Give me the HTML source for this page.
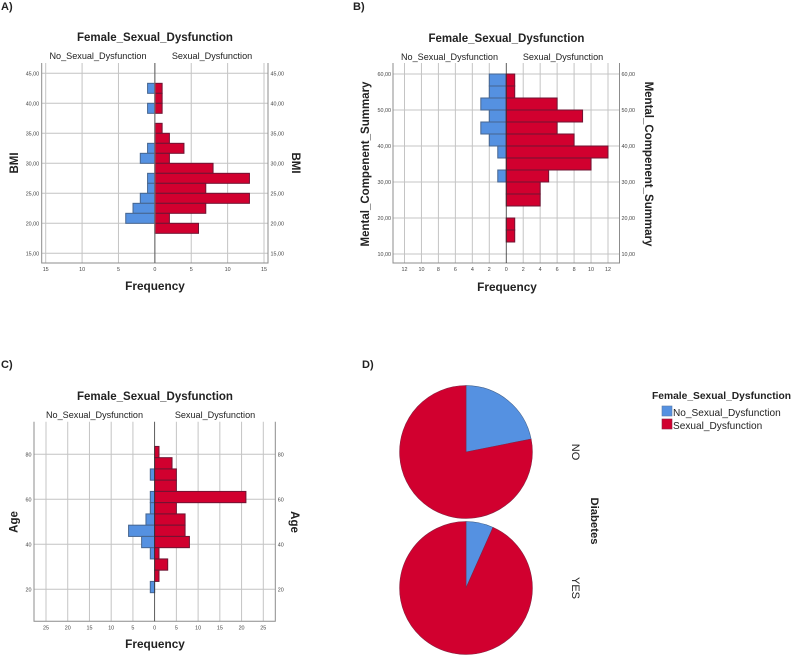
<!DOCTYPE html>
<html lang="en">
<head>
<meta charset="utf-8">
<title>Female Sexual Dysfunction charts</title>
<style>
html,body{margin:0;padding:0;background:#fff;}
svg{display:block;font-family:"Liberation Sans",sans-serif;filter:blur(0.3px);}
text{fill:#222;}
.title{font-size:11.5px;font-weight:bold;text-anchor:middle;}
.cat{font-size:9.1px;text-anchor:middle;}
.freq{font-size:11.8px;font-weight:bold;text-anchor:middle;}
.ylab{font-size:11.5px;font-weight:bold;text-anchor:middle;}
.tick{font-size:5.4px;fill:#444;}
.panel{font-size:11px;font-weight:bold;}
.leg{font-size:10.1px;}
</style>
</head>
<body>
<svg id="root" width="792" height="656" viewBox="0 0 792 656" xmlns="http://www.w3.org/2000/svg">
<rect x="0" y="0" width="792" height="656" fill="#fff"/>
<text class="panel" x="1" y="10">A)</text>
<text class="panel" x="353" y="10">B)</text>
<text class="panel" x="1" y="368">C)</text>
<text class="panel" x="362" y="368">D)</text>

<text class="title" x="155" y="41">Female_Sexual_Dysfunction</text>
<text class="cat" x="98" y="59">No_Sexual_Dysfunction</text>
<text class="cat" x="212" y="59">Sexual_Dysfunction</text>
<text class="freq" x="155" y="290">Frequency</text>
<text class="ylab" transform="translate(18,163) rotate(-90)">BMI</text>
<text class="ylab" transform="translate(292,163) rotate(90)">BMI</text>

<text class="title" x="506.5" y="42">Female_Sexual_Dysfunction</text>
<text class="cat" x="449.5" y="60">No_Sexual_Dysfunction</text>
<text class="cat" x="563" y="60">Sexual_Dysfunction</text>
<text class="freq" x="507" y="291">Frequency</text>
<text class="ylab" transform="translate(369,164) rotate(-90)">Mental_Compenent_Summary</text>
<text class="ylab" transform="translate(645,164) rotate(90)">Mental_Compenent_Summary</text>

<text class="title" x="155" y="400">Female_Sexual_Dysfunction</text>
<text class="cat" x="94.5" y="418">No_Sexual_Dysfunction</text>
<text class="cat" x="215" y="418">Sexual_Dysfunction</text>
<text class="freq" x="155" y="648">Frequency</text>
<text class="ylab" transform="translate(17.5,522) rotate(-90)">Age</text>
<text class="ylab" transform="translate(291,522) rotate(90)">Age</text>

<text font-size="11" text-anchor="middle" transform="translate(572,452) rotate(90)">NO</text>
<text font-size="11" text-anchor="middle" transform="translate(572,588) rotate(90)">YES</text>
<text font-size="11.3" font-weight="bold" text-anchor="middle" transform="translate(591,521) rotate(90)">Diabetes</text>

<text font-size="10.25" font-weight="bold" x="652" y="399">Female_Sexual_Dysfunction</text>
<rect x="662" y="406" width="10" height="10" fill="#5591e1" stroke="#5a7ba8" stroke-width="0.6"/>
<text class="leg" x="673" y="416">No_Sexual_Dysfunction</text>
<rect x="662" y="419" width="10" height="10" fill="#d1002f" stroke="#8a2040" stroke-width="0.6"/>
<text class="leg" x="673" y="429">Sexual_Dysfunction</text>
</svg>
<script>
// Chart A: BMI (bins listed from top to bottom)
const bmiTicks = [15, 20, 25, 30, 35, 40, 45];
const bmiTickLabels = ["15,00", "20,00", "25,00", "30,00", "35,00", "40,00", "45,00"];
const bmiFreqTicks = [15, 10, 5, 0, 5, 10, 15];
const bmiBinTop = 43.33;
const bmiBinWidth = 1.6667;
const bmiNoDysfunction = [1, 0, 1, 0, 0, 0, 1, 2, 0, 1, 1, 2, 3, 4, 0];
const bmiDysfunction = [1, 1, 1, 0, 1, 2, 4, 2, 8, 13, 7, 13, 7, 2, 6];

// Chart B: Mental component summary
const mentalTicks = [10, 20, 30, 40, 50, 60];
const mentalTickLabels = ["10,00", "20,00", "30,00", "40,00", "50,00", "60,00"];
const mentalFreqTicks = [12, 10, 8, 6, 4, 2, 0, 2, 4, 6, 8, 10, 12];
const mentalBinTop = 60;
const mentalBinWidth = 3.3333;
const mentalNoDysfunction = [2, 2, 3, 2, 3, 2, 1, 0, 1, 0, 0, 0, 0, 0];
const mentalDysfunction = [1, 1, 6, 9, 6, 8, 12, 10, 5, 4, 4, 0, 1, 1];

// Chart C: Age
const ageTicks = [20, 40, 60, 80];
const ageTickLabels = ["20", "40", "60", "80"];
const ageFreqTicks = [25, 20, 15, 10, 5, 0, 5, 10, 15, 20, 25];
const ageBinTop = 83.5;
const ageBinWidth = 5;
const ageNoDysfunction = [0, 0, 1, 0, 1, 1, 2, 6, 3, 1, 0, 0, 1];
const ageDysfunction = [1, 4, 5, 5, 21, 5, 7, 7, 8, 1, 3, 1, 0];

// Chart D: pies
const pieCategories = ["NO", "YES"];
const pieNoDysfunction = [14, 2];
const pieDysfunction = [50, 28];

const NS = "http://www.w3.org/2000/svg";
const root = document.getElementById("root");
const BLUE = "#5591e1", RED = "#d1002f", BLUE_EDGE = "#46658f", RED_EDGE = "#6e1433", GRID = "#c4c4c4", AXIS = "#8c8c8c";

function linear(d0, d1, r0, r1) {
  return function (v) { return r0 + (v - d0) * (r1 - r0) / (d1 - d0); };
}
function make(tag, props) {
  const el = document.createElementNS(NS, tag);
  for (const k in props) el.setAttribute(k, props[k]);
  return el;
}

function pyramid(id, box, xMax, xR0, xR1, yMin, yMax, yR0, yR1, yTicks, yLabels, xTicks, binTop, binW, left, right, centerColor, centerWidth, yLabelGap) {
  const g = make("g", {});
  
  
  root.appendChild(g);
  const x = linear(-xMax, xMax, xR0, xR1);
  const y = linear(yMin, yMax, yR0, yR1);

  // vertical gridlines and frequency tick labels
  const half = (xTicks.length - 1) / 2;
  xTicks.forEach(function (t, i) {
    const signed = i < half ? -t : t;
    const px = x(signed);
    if (signed !== 0) {
      const gl = make("line", { x1: px, x2: px, y1: box.top, y2: box.bottom, stroke: GRID, "stroke-width": 1 });
      
      
      g.appendChild(gl);
    }
    const lab = make("text", { x: px, y: box.bottom + 8, "text-anchor": "middle", class: "tick" });
    
    
    lab.textContent = String(t);
    g.appendChild(lab);
  });

  // horizontal gridlines and value tick labels
  yTicks.forEach(function (t, i) {
    const py = y(t);
    const gl = make("line", { x1: box.left, x2: box.right, y1: py, y2: py, stroke: GRID, "stroke-width": 1 });
    
    
    g.appendChild(gl);
    const l1 = make("text", { x: box.left - yLabelGap, y: py + 2, "text-anchor": "end", class: "tick" });
    
    
    l1.textContent = yLabels[i];
    g.appendChild(l1);
    const l2 = make("text", { x: box.right + yLabelGap, y: py + 2, "text-anchor": "start", class: "tick" });
    
    
    l2.textContent = yLabels[i];
    g.appendChild(l2);
  });

  // bars
  left.forEach(function (v, i) {
    if (!v) return;
    const top = y(binTop - i * binW), bot = y(binTop - (i + 1) * binW);
    const r = make("rect", { x: x(-v), y: top, width: x(0) - x(-v), height: bot - top, fill: BLUE, stroke: BLUE_EDGE, "stroke-width": 1 });
    
    
    g.appendChild(r);
  });
  right.forEach(function (v, i) {
    if (!v) return;
    const top = y(binTop - i * binW), bot = y(binTop - (i + 1) * binW);
    const r = make("rect", { x: x(0), y: top, width: x(v) - x(0), height: bot - top, fill: RED, stroke: RED_EDGE, "stroke-width": 1 });
    
    
    g.appendChild(r);
  });

  // frame
  const frame = make("path", {
    d: "M" + box.left + " " + box.top + "V" + box.bottom + "H" + box.right + "V" + box.top,
    fill: "none", stroke: AXIS, "stroke-width": 1
  });
  
  
  g.appendChild(frame);
  const c = make("line", { x1: x(0), x2: x(0), y1: box.top, y2: box.bottom, stroke: centerColor, "stroke-width": centerWidth });
  
  
  g.appendChild(c);
}

pyramid("chart-a", { left: 41.7, right: 268, top: 63, bottom: 263 }, 15, 45.7, 264, 15, 45, 253.3, 73.3,
  bmiTicks, bmiTickLabels, bmiFreqTicks, bmiBinTop, bmiBinWidth, bmiNoDysfunction, bmiDysfunction, "#6e6e6e", 1.2, 2.5);
pyramid("chart-b", { left: 393, right: 619.5, top: 63, bottom: 263 }, 12, 404.5, 608, 10, 60, 254, 74,
  mentalTicks, mentalTickLabels, mentalFreqTicks, mentalBinTop, mentalBinWidth, mentalNoDysfunction, mentalDysfunction, "#333", 0.8, 2);
pyramid("chart-c", { left: 34, right: 275.3, top: 421.7, bottom: 621.3 }, 25, 46, 263.3, 20, 80, 589.3, 454.3,
  ageTicks, ageTickLabels, ageFreqTicks, ageBinTop, ageBinWidth, ageNoDysfunction, ageDysfunction, "#333", 0.8, 2.5);

// pies
const pieCenterX = 466, pieCenterYs = linear(0, 1, 452, 588), pieRadius = 66.4;
pieCategories.forEach(function (cat, i) {
  const total = pieNoDysfunction[i] + pieDysfunction[i];
  const angle = 2 * Math.PI * pieNoDysfunction[i] / total;
  const cy = pieCenterYs(i);
  const ex = pieCenterX + pieRadius * Math.sin(angle), ey = cy - pieRadius * Math.cos(angle);
  const key = cat.toLowerCase();
  const start = "M" + pieCenterX + " " + cy + "L" + pieCenterX + " " + (cy - pieRadius);
  const large = angle > Math.PI ? 1 : 0;
  const blue = make("path", {
    d: start + "A" + pieRadius + " " + pieRadius + " 0 " + large + " 1 " + ex + " " + ey + "Z",
    fill: BLUE, stroke: "#3f5f8c", "stroke-width": 0.6
  });
  
  
  root.appendChild(blue);
  const red = make("path", {
    d: "M" + pieCenterX + " " + cy + "L" + ex + " " + ey + "A" + pieRadius + " " + pieRadius + " 0 " + (1 - large) + " 1 " + pieCenterX + " " + (cy - pieRadius) + "Z",
    fill: RED, stroke: "#8a2040", "stroke-width": 0.6
  });
  
  
  root.appendChild(red);
});
</script>
</body>
</html>
